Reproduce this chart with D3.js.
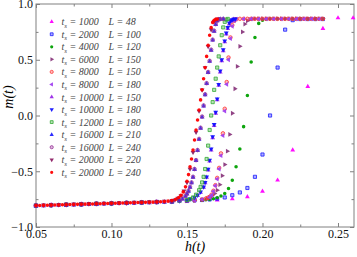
<!DOCTYPE html>
<html>
<head>
<meta charset="utf-8">
<script src="https://cdn.jsdelivr.net/npm/d3@7"></script>
<style>
  body { margin: 0; background: #fff; }
  text { font-family: "Liberation Serif", "DejaVu Serif", serif; }
</style>
</head>
<body>
<div id="chart"></div>
<script>
// sweep time and system size of each run (legend order)
const runTs = [1000, 2000, 4000, 6000, 8000, 8000, 10000, 10000, 12000, 16000, 16000, 20000, 20000];
const runL = [48, 100, 120, 150, 150, 180, 150, 180, 180, 210, 240, 220, 240];

// field h(t), one list per run
const hValues = [
  [0.05,0.06,0.07,0.08,0.09,0.10,0.11,0.12,0.13,0.14,0.15,0.16,0.17,0.18,0.19,0.20,0.21,0.22,0.23,0.24,0.25,0.26],
  [0.05,0.06,0.07,0.08,0.09,0.10,0.11,0.12,0.13,0.14,0.15,0.155,0.16,0.165,0.17,0.175,0.18,0.185,0.19,0.195,0.20,0.205,0.21,0.215,0.22,0.225,0.23,0.235,0.24],
  [0.05,0.06,0.07,0.08,0.09,0.10,0.11,0.12,0.13,0.14,0.15,0.155,0.16,0.1625,0.165,0.1675,0.17,0.1725,0.175,0.1775,0.18,0.1825,0.185,0.1875,0.19,0.1925,0.195,0.1975,0.20,0.2025,0.205,0.21,0.215,0.22,0.225,0.23,0.235,0.24],
  [0.05,0.06,0.07,0.08,0.09,0.10,0.11,0.12,0.13,0.14,0.15,0.155,0.16,0.1633,0.165,0.1667,0.1683,0.17,0.1717,0.1733,0.175,0.1767,0.1783,0.18,0.1817,0.1833,0.185,0.1867,0.1883,0.19,0.1917,0.1933,0.195,0.1975,0.20,0.2025,0.205,0.2075,0.21,0.2125,0.215,0.2175,0.22,0.2225,0.225,0.2275,0.23,0.2325,0.235,0.2375,0.24],
  [0.05,0.06,0.07,0.08,0.09,0.10,0.11,0.12,0.13,0.14,0.15,0.155,0.16,0.1625,0.1638,0.165,0.1663,0.1675,0.1688,0.17,0.1713,0.1725,0.1738,0.175,0.1763,0.1775,0.1788,0.18,0.1813,0.1825,0.185,0.1875,0.19,0.1925,0.195,0.1975,0.20,0.2025,0.205,0.2075,0.21,0.2125,0.215,0.2175,0.22,0.2225,0.225,0.2275,0.23,0.2325,0.235,0.2375,0.24],
  [0.05,0.06,0.07,0.08,0.09,0.10,0.11,0.12,0.13,0.14,0.15,0.155,0.16,0.165,0.1663,0.1675,0.1688,0.17,0.1713,0.1725,0.1738,0.175,0.1763,0.1775,0.1788,0.18,0.1813,0.1825,0.1875,0.1925,0.1975,0.2025,0.2075,0.2125,0.2175,0.2225,0.2275,0.2325,0.2375],
  [0.05,0.06,0.07,0.08,0.09,0.10,0.11,0.12,0.13,0.14,0.145,0.15,0.152,0.155,0.157,0.159,0.161,0.162,0.163,0.164,0.165,0.166,0.167,0.168,0.169,0.170,0.171,0.172,0.173,0.174,0.175,0.176,0.177,0.178,0.179,0.180,0.181],
  [0.05,0.06,0.07,0.08,0.09,0.10,0.11,0.12,0.13,0.14,0.145,0.15,0.152,0.155,0.157,0.159,0.161,0.162,0.163,0.164,0.165,0.166,0.167,0.168,0.169,0.170,0.171,0.172,0.173,0.174,0.175,0.176,0.177,0.178,0.179,0.180,0.181,0.182],
  [0.05,0.06,0.07,0.08,0.09,0.10,0.11,0.12,0.13,0.14,0.145,0.15,0.152,0.154,0.156,0.158,0.159,0.160,0.161,0.162,0.163,0.164,0.165,0.166,0.167,0.168,0.169,0.170,0.171,0.172,0.173,0.174,0.175,0.176,0.177],
  [0.05,0.055,0.06,0.065,0.07,0.075,0.08,0.085,0.09,0.095,0.10,0.105,0.11,0.115,0.12,0.125,0.13,0.135,0.14,0.145,0.147,0.149,0.150,0.151,0.152,0.153,0.154,0.155,0.156,0.157,0.158,0.159,0.160,0.161,0.162,0.163,0.164,0.165,0.166,0.167,0.168,0.169,0.170,0.171,0.172,0.174],
  [0.05,0.055,0.06,0.065,0.07,0.075,0.08,0.085,0.09,0.095,0.10,0.105,0.11,0.115,0.12,0.125,0.13,0.135,0.14,0.145,0.147,0.149,0.150,0.151,0.152,0.153,0.154,0.155,0.156,0.157,0.158,0.159,0.160,0.161,0.162,0.163,0.164,0.165,0.166,0.167,0.168,0.169,0.170,0.171,0.172,0.174],
  [0.05,0.055,0.06,0.065,0.07,0.075,0.08,0.085,0.09,0.095,0.10,0.105,0.11,0.115,0.12,0.125,0.13,0.135,0.14,0.142,0.144,0.146,0.148,0.150,0.152,0.154,0.156,0.158,0.160,0.162,0.164,0.166,0.168,0.170],
  [0.05,0.0525,0.055,0.0575,0.06,0.0625,0.065,0.0675,0.07,0.0725,0.075,0.0775,0.08,0.0825,0.085,0.0875,0.09,0.0925,0.095,0.0975,0.10,0.1025,0.105,0.1075,0.11,0.1125,0.115,0.1175,0.12,0.1225,0.125,0.1275,0.13,0.1325,0.135,0.1375,0.14,0.1425,0.1445,0.146,0.1475,0.149,0.150,0.151,0.152,0.153,0.154,0.155,0.156,0.157,0.158,0.159,0.160,0.161,0.162,0.163,0.164,0.165,0.166,0.167,0.168,0.169,0.170]
];

// magnetisation m(t), same order
const mValues = [
  [-0.808,-0.804,-0.800,-0.796,-0.792,-0.788,-0.784,-0.780,-0.776,-0.772,-0.768,-0.764,-0.758,-0.748,-0.73,-0.68,-0.58,-0.31,0.26,0.78,0.875,0.875],
  [-0.808,-0.804,-0.800,-0.796,-0.792,-0.788,-0.784,-0.780,-0.776,-0.771,-0.765,-0.762,-0.758,-0.753,-0.746,-0.735,-0.715,-0.69,-0.65,-0.55,-0.35,0.0,0.43,0.77,0.855,0.865,0.865,0.865,0.865],
  [-0.808,-0.804,-0.800,-0.796,-0.792,-0.788,-0.784,-0.780,-0.776,-0.771,-0.767,-0.763,-0.759,-0.756,-0.752,-0.746,-0.738,-0.722,-0.70,-0.655,-0.58,-0.46,-0.30,-0.10,0.18,0.48,0.70,0.826,0.855,0.865,0.867,0.867,0.867,0.867,0.867,0.867,0.867,0.867],
  [-0.808,-0.804,-0.800,-0.796,-0.792,-0.788,-0.784,-0.780,-0.776,-0.771,-0.766,-0.761,-0.755,-0.745,-0.735,-0.72,-0.70,-0.67,-0.62,-0.54,-0.44,-0.32,-0.17,0.02,0.24,0.44,0.62,0.75,0.82,0.85,0.862,0.866,0.868,0.868,0.868,0.868,0.868,0.868,0.868,0.868,0.868,0.868,0.868,0.868,0.868,0.868,0.868,0.868,0.868,0.868,0.868],
  [-0.808,-0.804,-0.800,-0.796,-0.792,-0.788,-0.784,-0.780,-0.776,-0.771,-0.765,-0.76,-0.753,-0.745,-0.738,-0.73,-0.71,-0.675,-0.625,-0.56,-0.47,-0.34,-0.16,0.06,0.30,0.52,0.70,0.81,0.85,0.864,0.867,0.867,0.867,0.867,0.867,0.867,0.867,0.867,0.867,0.867,0.867,0.867,0.867,0.867,0.867,0.867,0.867,0.867,0.867,0.867,0.867,0.867,0.867],
  [-0.808,-0.804,-0.800,-0.796,-0.792,-0.788,-0.784,-0.780,-0.776,-0.771,-0.765,-0.76,-0.753,-0.735,-0.715,-0.68,-0.63,-0.57,-0.48,-0.36,-0.18,0.04,0.28,0.50,0.69,0.80,0.85,0.865,0.866,0.866,0.866,0.866,0.866,0.866,0.866,0.866,0.866,0.866,0.866],
  [-0.808,-0.804,-0.800,-0.796,-0.792,-0.788,-0.784,-0.780,-0.776,-0.771,-0.766,-0.761,-0.752,-0.737,-0.718,-0.69,-0.645,-0.605,-0.555,-0.49,-0.41,-0.31,-0.20,-0.09,0.02,0.14,0.27,0.39,0.49,0.58,0.66,0.73,0.78,0.82,0.845,0.858,0.864],
  [-0.808,-0.804,-0.800,-0.796,-0.792,-0.788,-0.784,-0.780,-0.776,-0.771,-0.766,-0.761,-0.75,-0.735,-0.715,-0.685,-0.64,-0.60,-0.55,-0.48,-0.40,-0.30,-0.19,-0.08,0.03,0.15,0.28,0.40,0.50,0.59,0.67,0.74,0.79,0.83,0.85,0.86,0.865,0.866],
  [-0.808,-0.804,-0.800,-0.796,-0.792,-0.788,-0.784,-0.780,-0.776,-0.771,-0.765,-0.758,-0.75,-0.735,-0.71,-0.67,-0.64,-0.60,-0.55,-0.48,-0.39,-0.27,-0.13,0.00,0.12,0.23,0.33,0.43,0.53,0.63,0.72,0.79,0.84,0.86,0.866],
  [-0.813,-0.811,-0.809,-0.807,-0.805,-0.803,-0.801,-0.799,-0.797,-0.795,-0.793,-0.791,-0.789,-0.787,-0.785,-0.783,-0.781,-0.779,-0.776,-0.766,-0.75,-0.725,-0.705,-0.68,-0.645,-0.605,-0.555,-0.485,-0.405,-0.315,-0.215,-0.115,-0.015,0.085,0.185,0.285,0.385,0.485,0.585,0.675,0.755,0.815,0.848,0.86,0.864,0.866],
  [-0.808,-0.806,-0.804,-0.802,-0.800,-0.798,-0.796,-0.794,-0.792,-0.790,-0.788,-0.786,-0.784,-0.782,-0.780,-0.778,-0.776,-0.774,-0.771,-0.76,-0.745,-0.72,-0.70,-0.675,-0.64,-0.60,-0.55,-0.48,-0.40,-0.31,-0.21,-0.11,-0.01,0.09,0.19,0.29,0.39,0.49,0.59,0.68,0.76,0.82,0.85,0.862,0.865,0.866],
  [-0.803,-0.801,-0.799,-0.797,-0.795,-0.793,-0.791,-0.789,-0.787,-0.785,-0.783,-0.781,-0.779,-0.777,-0.775,-0.773,-0.771,-0.769,-0.766,-0.757,-0.742,-0.718,-0.675,-0.60,-0.48,-0.33,-0.15,0.04,0.23,0.43,0.62,0.77,0.845,0.865],
  [-0.808,-0.807,-0.806,-0.805,-0.804,-0.803,-0.802,-0.801,-0.800,-0.799,-0.798,-0.797,-0.796,-0.795,-0.794,-0.793,-0.792,-0.791,-0.790,-0.789,-0.788,-0.787,-0.786,-0.785,-0.784,-0.783,-0.782,-0.781,-0.780,-0.779,-0.778,-0.777,-0.776,-0.774,-0.772,-0.768,-0.762,-0.752,-0.735,-0.715,-0.685,-0.64,-0.59,-0.53,-0.46,-0.39,-0.31,-0.22,-0.13,-0.04,0.05,0.14,0.23,0.33,0.43,0.53,0.63,0.72,0.79,0.835,0.855,0.862,0.865]
];

const xTicks = [0.05, 0.10, 0.15, 0.20, 0.25];
const xMinor = [0.075, 0.125, 0.175, 0.225];
const yTicks = [-1.0, -0.5, 0.0, 0.5, 1.0];
const yMinor = [-0.75, -0.25, 0.25, 0.75];

// marker look per run
const shapes = ["up","square","circle","right","circle","left","up","down","square","up","circle","down","circle"];
const colors = ["#ff00ff","#1a1aff","#00a000","#8b3a7e","#ff3a3a","#a040f0","#9a2ae8","#1010ff","#33aa33","#2020ff","#993399","#8b1c62","#ff0000"];
const hollow = [false,true,false,false,true,false,false,false,true,false,true,false,false];

const width = 357, height = 257;
const svg = d3.select("#chart").append("svg")
    .attr("width", width)
    .attr("height", height);

const x = d3.scaleLinear().domain([0.05, 0.2606]).range([36, 354]);
const y = d3.scaleLinear().domain([-1, 1]).range([227, 4]);

const frame = "#808080";

// axes, ticks pointing inward on all four sides
function styleAxis(g) {
  g.select(".domain").remove();
  g.selectAll(".tick line").attr("stroke", frame);
  g.selectAll(".tick text").attr("fill", "#111").style("font-size", "12px")
    .style("font-family", "'Liberation Serif', serif");
}
svg.append("g").attr("transform", "translate(0,227)")
  .call(d3.axisBottom(x).tickValues(xTicks).tickSize(-4).tickPadding(2).tickFormat(d3.format(".2f")))
  .call(styleAxis);
svg.append("g").attr("transform", "translate(0,227)")
  .call(d3.axisBottom(x).tickValues(xMinor).tickSize(-2.5).tickFormat(""))
  .call(styleAxis);
svg.append("g").attr("transform", "translate(0,4)")
  .call(d3.axisTop(x).tickValues(xTicks).tickSize(-4).tickFormat(""))
  .call(styleAxis);
svg.append("g").attr("transform", "translate(0,4)")
  .call(d3.axisTop(x).tickValues(xMinor).tickSize(-2.5).tickFormat(""))
  .call(styleAxis);
svg.append("g").attr("transform", "translate(36,0)")
  .call(d3.axisLeft(y).tickValues(yTicks).tickSize(-4).tickPadding(3).tickFormat(d3.format(".1f")))
  .call(styleAxis);
svg.append("g").attr("transform", "translate(36,0)")
  .call(d3.axisLeft(y).tickValues(yMinor).tickSize(-2.5).tickFormat(""))
  .call(styleAxis);
svg.append("g").attr("transform", "translate(354,0)")
  .call(d3.axisRight(y).tickValues(yTicks).tickSize(-4).tickFormat(""))
  .call(styleAxis);
svg.append("g").attr("transform", "translate(354,0)")
  .call(d3.axisRight(y).tickValues(yMinor).tickSize(-2.5).tickFormat(""))
  .call(styleAxis);

svg.append("rect")
  .attr("x", 36).attr("y", 4)
  .attr("width", 318).attr("height", 223)
  .attr("fill", "none").attr("stroke", frame).attr("stroke-width", 1);

// axis titles
svg.append("text")
  .attr("x", 195).attr("y", 251)
  .attr("text-anchor", "middle")
  .style("font-size", "14px").style("font-style", "italic")
  .text("h(t)");
svg.append("text")
  .attr("transform", "translate(13,97) rotate(-90)")
  .attr("text-anchor", "middle")
  .style("font-size", "14px").style("font-style", "italic")
  .text("m(t)");

// marker path for one run
const rotations = {up: 0, down: 180, right: 90, left: -90};
function markerPath(shape, k) {
  if (shape === "circle") return d3.symbol().type(d3.symbolCircle).size(10 * k)();
  if (shape === "square") return d3.symbol().type(d3.symbolSquare).size(10 * k)();
  return d3.symbol().type(d3.symbolTriangle).size(10 * k)();
}
function drawMarker(sel, i, k) {
  const s = shapes[i];
  sel.attr("d", markerPath(s, k || 1))
    .attr("fill", colors[i])
    .attr("fill-opacity", hollow[i] ? 0.35 : 0.95)
    .attr("stroke", hollow[i] ? colors[i] : "none")
    .attr("stroke-width", 0.8);
}

const plot = svg.append("g");
runTs.forEach(function(ts, i) {
  const pts = hValues[i].map(function(h, k) { return {h: h, m: mValues[i][k]}; });
  plot.append("g")
    .selectAll("path")
    .data(pts)
    .join("path")
      .attr("transform", function(d) {
        const r = rotations[shapes[i]] || 0;
        return `translate(${x(d.h)},${y(d.m)}) rotate(${r})`;
      })
      .call(drawMarker, i, 1);
});

// legend
const legend = svg.append("g");
runTs.forEach(function(ts, i) {
  const ly = 21.7 + 12.55 * i;
  legend.append("path")
    .attr("transform", `translate(51.7,${ly}) rotate(${rotations[shapes[i]] || 0})`)
    .call(drawMarker, i, 0.8);
  const t = legend.append("text")
    .attr("x", 61.5).attr("y", ly + 3.5)
    .attr("fill", "#444")
    .style("font-size", "10px").style("font-style", "italic");
  t.append("tspan").text("t");
  t.append("tspan").attr("dy", 2.5).style("font-size", "7px").text("s");
  t.append("tspan").attr("dy", -2.5).text(" = " + ts);
  legend.append("text")
    .attr("x", 108.5).attr("y", ly + 3.5)
    .attr("fill", "#444")
    .style("font-size", "10px").style("font-style", "italic")
    .text("L = " + runL[i]);
});
</script>
</body>
</html>
